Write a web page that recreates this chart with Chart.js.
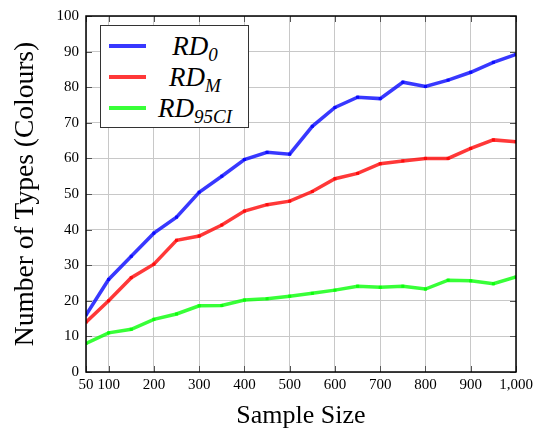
<!DOCTYPE html>
<html>
<head>
<meta charset="utf-8">
<script src="https://cdn.jsdelivr.net/npm/chart.js@4/dist/chart.umd.min.js"></script>
<style>
  body { margin: 0; background: #fff; }
  #wrap { position: relative; width: 542px; height: 436px; }
  #legend {
    position: absolute; left: 100px; top: 25px; width: 147px; height: 101px;
    border: 1px solid #333; background: #fff;
    font-family: "Liberation Serif"; font-style: italic; font-size: 27px;
  }
  #legend .row { position: absolute; left: 0; width: 147px; height: 30px; }
  #legend .swatch { position: absolute; left: 8px; width: 37px; height: 4px; }
  #legend .lbl { position: absolute; left: 47px; width: 94px; text-align: center; line-height: 30px; white-space: nowrap; }
  #legend sub { font-size: 19px; vertical-align: -6px; line-height: 0; }
</style>
</head>
<body>
<div id="wrap">
  <canvas id="grafico" width="542" height="436"></canvas>
  <div id="legend"></div>
</div>
<script>
// ============================================================
// DADOS
// ============================================================

const tamanhos = [50, 100, 150, 200, 250, 300, 350, 400, 450, 500, 550, 600, 650, 700, 750, 800, 850, 900, 950, 1000];
const rd0 = [16, 26, 32.5, 39, 43.5, 50.5, 55, 59.7, 61.7, 61.2, 69, 74.3, 77.2, 76.8, 81.4, 80.2, 82, 84.2, 87, 89.2];
const rdM = [14, 20, 26.5, 30.3, 37, 38.2, 41.3, 45.2, 47, 48, 50.7, 54.3, 55.8, 58.5, 59.3, 60, 60, 62.8, 65.2, 64.7];
const rd95 = [8, 11, 12, 14.8, 16.3, 18.6, 18.7, 20.2, 20.6, 21.3, 22.1, 23, 24.1, 23.8, 24.1, 23.3, 25.8, 25.6, 24.8, 26.7];

const xTicks = [50, 100, 200, 300, 400, 500, 600, 700, 800, 900, 1000];
const yTicks = [0, 10, 20, 30, 40, 50, 60, 70, 80, 90, 100];

const series = [
    { nome: 'RD', sub: '0', valores: rd0, cor: 'rgba(0, 0, 255, 0.78)' },
    { nome: 'RD', sub: 'M', valores: rdM, cor: 'rgba(255, 0, 0, 0.78)' },
    { nome: 'RD', sub: '95CI', valores: rd95, cor: 'rgba(0, 255, 0, 0.78)' }
];

const fonte = 'Liberation Serif';

// ============================================================
// MOLDURA (borda preta + marcas internas estilo pgfplots)
// ============================================================

const molduraPlugin = {
    id: 'moldura',
    afterDraw(chart) {
        const { ctx, chartArea: a, scales } = chart;
        ctx.save();
        ctx.strokeStyle = '#555';
        ctx.lineWidth = 1;
        ctx.beginPath();
        scales.x.ticks.forEach(t => {
            const px = Math.round(scales.x.getPixelForValue(t.value)) + 0.5;
            ctx.moveTo(px, a.bottom); ctx.lineTo(px, a.bottom - 6);
            ctx.moveTo(px, a.top); ctx.lineTo(px, a.top + 6);
        });
        scales.y.ticks.forEach(t => {
            const py = Math.round(scales.y.getPixelForValue(t.value)) + 0.5;
            ctx.moveTo(a.left, py); ctx.lineTo(a.left + 6, py);
            ctx.moveTo(a.right, py); ctx.lineTo(a.right - 6, py);
        });
        ctx.stroke();
        ctx.strokeStyle = '#000';
        ctx.lineWidth = 1.5;
        ctx.strokeRect(a.left, a.top, a.right - a.left, a.bottom - a.top);
        ctx.restore();
    }
};

// ============================================================
// GRÁFICO
// ============================================================

const grafico = new Chart(document.getElementById('grafico'), {
    type: 'line',
    data: {
        datasets: series.map(s => ({
            label: s.nome + s.sub,
            data: tamanhos.map((x, i) => ({ x, y: s.valores[i] })),
            borderColor: s.cor,
            backgroundColor: s.cor,
            borderWidth: 3.5,
            pointStyle: 'rect',
            pointRadius: 2.2,
            pointBorderWidth: 0,
            tension: 0
        }))
    },
    options: {
        responsive: false,
        animation: false,
        layout: { padding: { top: 15, right: 26, left: 0, bottom: 0 } },
        plugins: { legend: { display: false }, tooltip: { enabled: false } },
        scales: {
            x: {
                type: 'linear',
                min: 50, max: 1000,
                afterBuildTicks: s => { s.ticks = xTicks.map(v => ({ value: v })); },
                afterFit: s => { s.height = 64; },
                grid: { color: '#c8c8c8', drawTicks: false },
                border: { display: false },
                ticks: {
                    color: '#000', padding: 4, maxRotation: 0, autoSkip: false,
                    font: { family: fonte, size: 15 },
                    callback: v => v.toLocaleString('en-US')
                },
                title: {
                    display: true, text: 'Sample Size', color: '#000',
                    font: { family: fonte, size: 26 }, padding: { top: 5 }
                }
            },
            y: {
                min: 0, max: 100,
                afterBuildTicks: s => { s.ticks = yTicks.map(v => ({ value: v })); },
                afterFit: s => { s.width = 86; },
                grid: { color: '#c8c8c8', drawTicks: false },
                border: { display: false },
                ticks: { color: '#000', padding: 7, font: { family: fonte, size: 15 } },
                title: {
                    display: true, text: 'Number of Types (Colours)', color: '#000',
                    font: { family: fonte, size: 27.5 }, padding: { top: 9 }
                }
            }
        }
    },
    plugins: [molduraPlugin]
});

// ============================================================
// LEGENDA (HTML, para os subscritos)
// ============================================================

const $legend = document.getElementById('legend');
$legend.innerHTML = series.map((s, i) => `
    <div class="row" style="top:${5 + i * 31}px">
        <div class="swatch" style="top:13px;background:${s.cor}"></div>
        <div class="lbl">${s.nome}<sub>${s.sub}</sub></div>
    </div>
`).join('');
</script>
</body>
</html>
